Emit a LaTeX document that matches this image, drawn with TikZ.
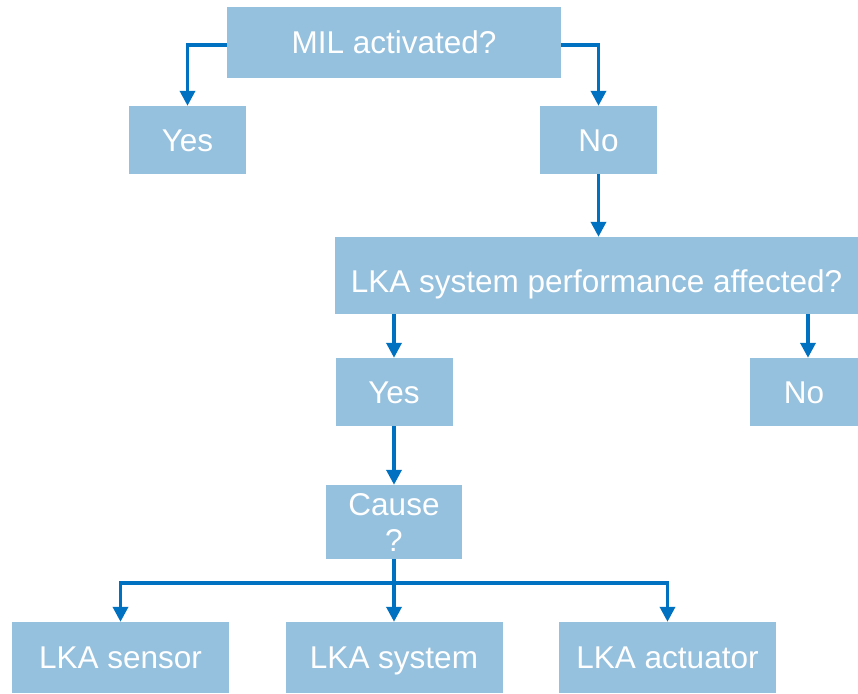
\documentclass[tikz,border=0pt]{standalone}
\usepackage{fontspec}
\setmainfont{Liberation Sans}
\usetikzlibrary{arrows.meta}
\definecolor{boxfill}{HTML}{95C1DE}
\definecolor{linkblue}{HTML}{0070C0}
\tikzset{
  box/.style={fill=boxfill, text=white, inner sep=0pt, align=center,
    font=\fontsize{31.5}{36}\selectfont},
  onebox/.style={box, text height=22.6pt, text depth=0pt},
  conn/.style={draw=linkblue, line width=3.5pt,
    -{Triangle[width=15pt,length=15pt]}},
}
\begin{document}
\begin{tikzpicture}[x=1pt,y=-1pt]
    \useasboundingbox (0,0) rectangle (858,693);

    % first question
    \node[onebox, minimum width=334pt, minimum height=70pt] (mil) at (394,42.5) {MIL activated?};
    \node[onebox, minimum width=117pt, minimum height=68pt] (yes1) at (187.5,140) {Yes};
    \node[onebox, minimum width=117pt, minimum height=68pt] (no1) at (598.5,140) {No};

    % second question
    \node[onebox, text height=34.6pt, minimum width=523pt, minimum height=77pt] (perf) at (596.5,275.5) {LKA system performance affected?};
    \node[onebox, minimum width=117pt, minimum height=68pt] (yes2) at (394,392) {Yes};
    \node[onebox, minimum width=108pt, minimum height=68pt] (no2) at (804,392) {No};

    % cause
    \node[box, minimum width=136pt, minimum height=74pt] (cause) at (394,522) {Cause\\?};
    \node[onebox, minimum width=217pt, minimum height=71pt] (sensor) at (120.5,657.5) {LKA sensor};
    \node[onebox, minimum width=217pt, minimum height=71pt] (system) at (394,657.5) {LKA system};
    \node[onebox, minimum width=217pt, minimum height=71pt] (actuator) at (667.5,657.5) {LKA actuator};
    \coordinate (bus) at (394,583);

    \draw[conn] ([yshift=-2.5pt]mil.west) -| (yes1.north);
    \draw[conn] ([yshift=-2.5pt]mil.east) -| (no1.north);
    \draw[conn] (no1.south) -- (no1.south |- perf.north);
    \draw[conn] (yes2.north |- perf.south) -- (yes2.north);
    \draw[conn] ([xshift=4pt]no2.north |- perf.south) -- ([xshift=4pt]no2.north);
    \draw[conn] (yes2.south) -- (cause.north);
    \draw[conn] (cause.south) -- (system.north);
    \draw[conn] (bus) -| (sensor.north);
    \draw[conn] (bus) -| (actuator.north);
\end{tikzpicture}
\end{document}
